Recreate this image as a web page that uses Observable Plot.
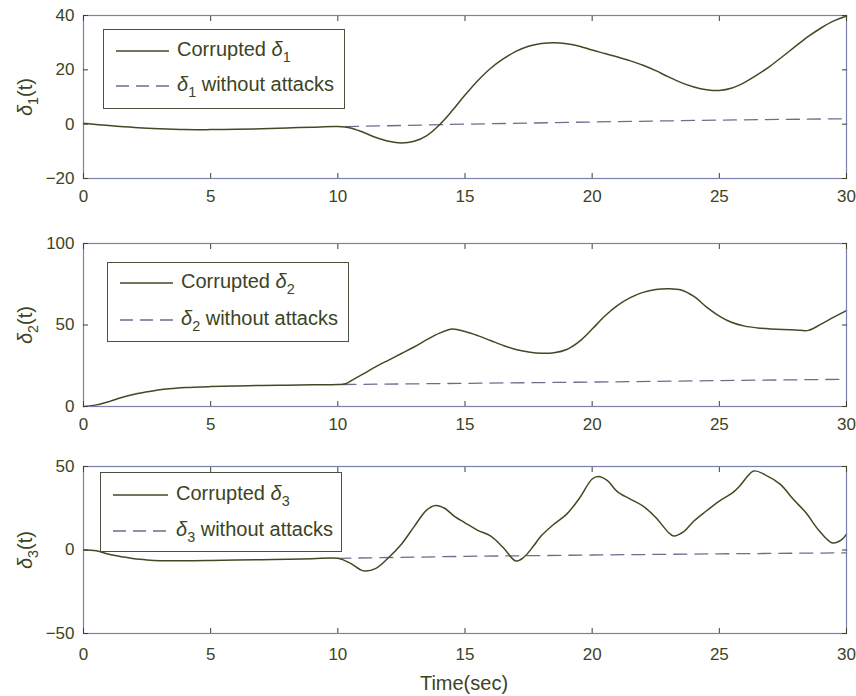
<!DOCTYPE html>
<html><head><meta charset="utf-8">
<script src="https://cdn.jsdelivr.net/npm/d3@7"></script>
<script src="https://cdn.jsdelivr.net/npm/@observablehq/plot@0.6"></script>
<style>
body{margin:0;background:#fff;font-family:"Liberation Sans",Arial,sans-serif;color:#3c4424}
#wrap{position:relative;width:856px;height:696px;overflow:hidden;background:#fff}
.panel{position:absolute;left:0}
.legend{position:absolute;border:1px solid #4b5040;background:#fff;font-size:20px;box-sizing:border-box}
.row{position:absolute;left:0;white-space:nowrap;line-height:20px}
.row svg{position:absolute;top:0}
.row span{position:absolute;top:-2px}
.ylab{position:absolute;font-size:20px;white-space:nowrap;transform:translate(-50%,-50%) rotate(-90deg)}
sub{font-size:0.72em;vertical-align:-0.45em;line-height:0}
.xlab{position:absolute;font-size:20px;white-space:nowrap;transform:translate(-50%,-50%)}
</style>
</head><body>
<div id="wrap"></div>
<script>
// ---------- data ----------
const xTicks = [0, 5, 10, 15, 20, 25, 30];
const y1Ticks = [-20, 0, 20, 40];
const y2Ticks = [0, 50, 100];
const y3Ticks = [-50, 0, 50];

// delta_1 corrupted
const t1 = [0,1,2,3,4,5,6,7,8,9,10,10.5,11,11.5,12,12.5,13,13.5,14,14.5,15,15.5,16,16.5,17,17.5,18,18.5,19,19.5,20,20.5,21,21.5,22,22.5,23,23.5,24,24.5,25,25.5,26,26.5,27,27.5,28,28.5,29,29.5,30];
const d1 = [0.3,-0.5,-1.2,-1.7,-2,-2,-1.9,-1.7,-1.4,-1.1,-0.9,-1.4,-3,-4.9,-6.3,-6.9,-6.3,-4.2,-0.2,5,10.7,16,20.5,24,26.8,28.7,29.7,30,29.6,28.7,27.3,26,24.7,23.3,21.7,19.7,17.4,15.3,13.7,12.7,12.4,13.3,15.4,18.2,21.4,25,28.7,32.3,35.4,38,39.8];
// delta_1 without attacks
const t1n = [10.3, 15, 20, 25, 30];
const d1n = [-0.9, 0, 0.8, 1.5, 2];

// delta_2 corrupted
const t2 = [0,0.5,1,1.5,2,2.5,3,3.5,4,5,6,7,8,9,10,10.3,10.6,11,11.5,12,12.5,13,13.5,14,14.5,15,15.5,16,16.5,17,17.5,18,18.5,19,19.5,20,20.5,21,21.5,22,22.5,23,23.5,24,24.5,25,25.5,26,26.5,27,27.5,28,28.5,29,29.5,30];
const d2 = [0,1,3,5.5,7.5,9,10.3,11,11.6,12.2,12.6,12.9,13.1,13.3,13.5,14,16.5,20,24.5,28.5,32.5,36.5,41,45,47.5,46,43.5,40.5,37.5,35,33.5,32.7,33,35,40,47.5,55.5,62,66.8,70,71.8,72.3,71.5,67.5,61,55.5,51.5,49.3,48.2,47.6,47.2,47,46.7,50.5,54.8,58.8];
// delta_2 without attacks
const t2n = [10.2, 15, 20, 25, 30];
const d2n = [13.5, 14.2, 15, 15.9, 16.7];

// delta_3 corrupted
const t3 = [0,0.5,1,1.5,2,2.5,3,4,5,6,7,8,9,10,10.5,11,11.5,12,12.5,13,13.5,13.85,14.2,14.6,15,15.5,16,16.5,17,17.3,17.7,18,18.5,19,19.5,20,20.25,20.6,21,21.5,22,22.5,23,23.2,23.6,24,24.5,25,25.5,25.8,26.35,26.8,27.4,27.9,28.4,28.9,29.45,29.8,30];
const d3 = [0,-0.5,-2.5,-4,-5.3,-6,-6.4,-6.5,-6.3,-6,-5.8,-5.5,-5.3,-5,-8,-12.5,-11,-4.5,3.5,14,24,26.7,25,20,16.3,11.8,8.4,1.5,-6.6,-4.5,2.5,8.5,15.5,21.5,31,42.5,44,41.5,34.8,30.5,26.3,19.5,10.5,8.4,11,17.4,23.5,29.3,34,38.3,47.3,45,39.3,30.5,22.4,12,4.2,6,9.5];
// delta_3 without attacks
const t3n = [10, 15, 20, 25, 30];
const d3n = [-5, -3.8, -3, -2.3, -1.7];

// ---------- drawing ----------
const solid = "#404b24", dashed = "#6b6e8c", frameCol = "#7a80ab", ink = "#3c4424";
const toRows = (ts, vs) => ts.map((t, i) => ({t, v: vs[i]}));

const panels = [
  {top: 0,   height: 218, mt: 15, mb: 40, dom: [-20, 40], ticks: y1Ticks, s: toRows(t1, d1), n: toRows(t1n, d1n), pad: 16, k: 1,
   leg: {x: 103, y: 29, w: 242, h: 80, lx: 12, lw: 53, ty: 21, gap: 35}},
  {top: 228, height: 218, mt: 15, mb: 40, dom: [0, 100], ticks: y2Ticks, s: toRows(t2, d2), n: toRows(t2n, d2n), pad: 16, k: 2,
   leg: {x: 107, y: 262, w: 242, h: 80, lx: 12, lw: 53, ty: 20, gap: 37}},
  {top: 451, height: 245, mt: 15, mb: 63, dom: [-50, 50], ticks: y3Ticks, s: toRows(t3, d3), n: toRows(t3n, d3n), pad: 19, k: 3,
   leg: {x: 100, y: 472, w: 242, h: 80, lx: 12, lw: 55, ty: 22, gap: 36}}
];

const wrap = document.getElementById("wrap");
for (const p of panels) {
  const chart = Plot.plot({
    width: 856, height: p.height,
    marginTop: p.mt, marginBottom: p.mb, marginLeft: 83, marginRight: 10,
    style: {fontFamily: "'Liberation Sans', Arial, sans-serif", fontSize: "17px", color: ink, background: "transparent", overflow: "visible"},
    x: {domain: [0, 30]},
    y: {domain: p.dom},
    marks: [
      Plot.line(p.n, {x: "t", y: "v", stroke: dashed, strokeWidth: 1.3, strokeDasharray: "13,8"}),
      Plot.line(p.s, {x: "t", y: "v", stroke: solid, strokeWidth: 1.5, curve: "catmull-rom"}),
      Plot.frame({stroke: frameCol, strokeWidth: 1.2}),
      Plot.axisX({ticks: xTicks, tickSize: -5, tickPadding: p.pad, label: null}),
      Plot.axisX({anchor: "top", ticks: xTicks, tickSize: -5, tickFormat: () => "", label: null}),
      Plot.axisY({ticks: p.ticks, tickSize: -5, tickPadding: 14, label: null}),
      Plot.axisY({anchor: "right", ticks: p.ticks, tickSize: -5, tickFormat: () => "", label: null})
    ]
  });
  const div = document.createElement("div");
  div.className = "panel";
  div.style.top = p.top + "px";
  div.appendChild(chart);
  wrap.appendChild(div);

  // y label
  const yl = document.createElement("div");
  yl.className = "ylab";
  yl.style.left = "25px";
  yl.style.top = (p.top + p.mt + (p.height - p.mt - p.mb) / 2) + "px";
  yl.innerHTML = `<i>δ</i><sub>${p.k}</sub>(t)`;
  wrap.appendChild(yl);

  // legend
  const L = p.leg;
  const lg = document.createElement("div");
  lg.className = "legend";
  Object.assign(lg.style, {left: L.x + "px", top: L.y + "px", width: L.w + "px", height: L.h + "px"});
  const r1 = `<div class="row" style="top:${L.ty - 10}px">
      <svg width="${L.lw + 2}" height="20" style="left:${L.lx}px"><line x1="0" x2="${L.lw}" y1="10" y2="10" stroke="${solid}" stroke-width="1.5"/></svg>
      <span style="left:${L.lx + L.lw + 8}px">Corrupted <i>δ</i><sub>${p.k}</sub></span></div>`;
  const r2 = `<div class="row" style="top:${L.ty + L.gap - 10}px">
      <svg width="${L.lw + 2}" height="20" style="left:${L.lx}px"><line x1="0" x2="${L.lw}" y1="10" y2="10" stroke="${dashed}" stroke-width="1.3" stroke-dasharray="13,7"/></svg>
      <span style="left:${L.lx + L.lw + 8}px"><i>δ</i><sub>${p.k}</sub> without attacks</span></div>`;
  lg.innerHTML = r1 + r2;
  wrap.appendChild(lg);
}
const xl = document.createElement("div");
xl.className = "xlab";
xl.style.left = "464px";
xl.style.top = "683px";
xl.textContent = "Time(sec)";
wrap.appendChild(xl);
</script>
</body></html>
